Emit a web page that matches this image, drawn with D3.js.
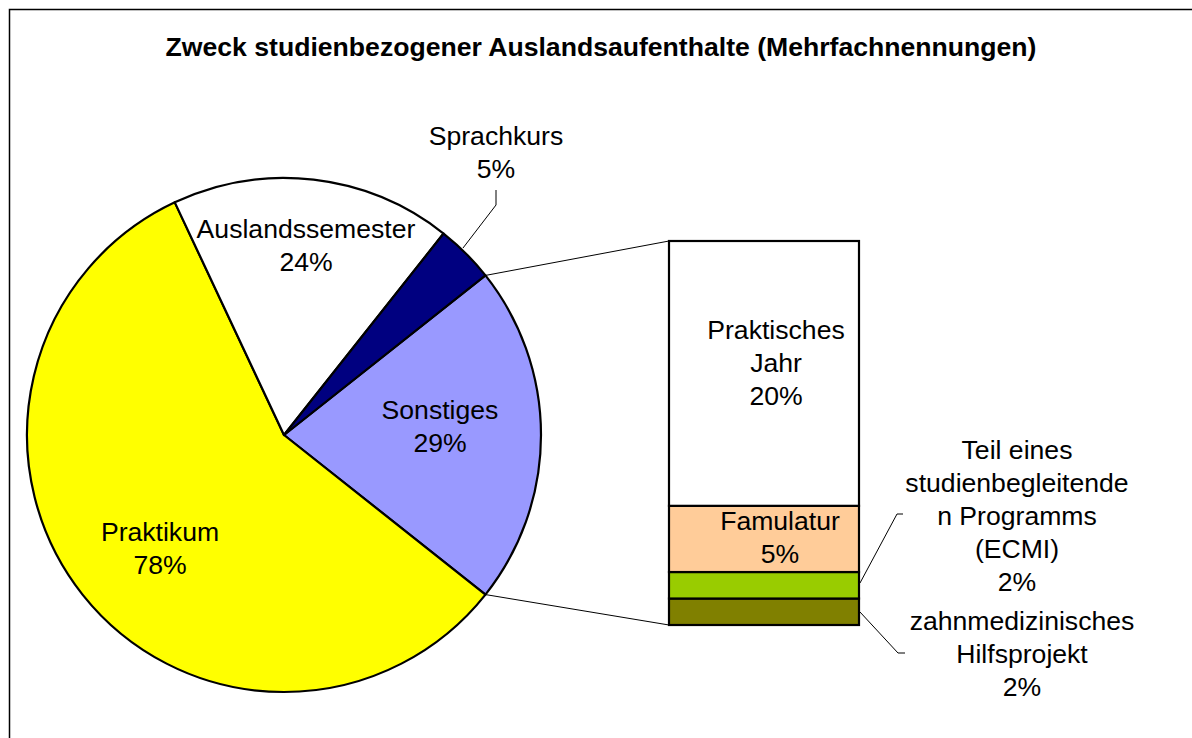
<!DOCTYPE html>
<html>
<head>
<meta charset="utf-8">
<script src="https://cdn.jsdelivr.net/npm/d3@7"></script>
<style>
  body { margin: 0; background: #fff; }
  text { font-family: "Liberation Sans", Arial, sans-serif; fill: #000; }
</style>
</head>
<body>
<div id="chart"></div>
<script>
// pie data (Sonstiges is broken out into the bar)
var pieLabels = ["Sonstiges", "Praktikum", "Auslandssemester", "Sprachkurs"];
var pieValues = [29, 78, 24, 5];
var pieColors = ["#9999FF", "#FFFF00", "#FFFFFF", "#000080"];

// bar data, bottom to top
var barLabels = ["zahnmedizinisches Hilfsprojekt", "Teil eines studienbegleitenden Programms (ECMI)", "Famulatur", "Praktisches Jahr"];
var barValues = [2, 2, 5, 20];
var barColors = ["#808000", "#99CC00", "#FFCC99", "#FFFFFF"];

var title = "Zweck studienbezogener Auslandsaufenthalte (Mehrfachnennungen)";

var svgWidth = 1192;
var svgHeight = 738;

var svg = d3.select("#chart")
    .append("svg")
    .attr("width", svgWidth)
    .attr("height", svgHeight);

// frame
svg.append("rect")
    .attr("x", 9.5).attr("y", 9.5)
    .attr("width", 1200).attr("height", 800)
    .attr("fill", "none")
    .attr("stroke", "#000")
    .attr("stroke-width", 1.5);

svg.append("text")
    .attr("x", 601).attr("y", 56)
    .attr("text-anchor", "middle")
    .attr("font-size", "26.6px")
    .attr("font-weight", "bold")
    .text(title);

// pie
var cx = 284, cy = 435, radius = 257;
var total = d3.sum(pieValues);
var start = Math.PI / 2 - (pieValues[0] / total) * Math.PI;

var pie = d3.pie()
    .sort(null)
    .startAngle(start)
    .endAngle(start + 2 * Math.PI);

var arcs = pie(pieValues);
var arc = d3.arc().innerRadius(0).outerRadius(radius);

var pieGroup = svg.append("g")
    .attr("transform", `translate(${cx}, ${cy})`);

pieGroup.selectAll("path")
    .data(arcs)
    .enter()
    .append("path")
    .attr("d", arc)
    .attr("fill", (d, i) => pieColors[i])
    .attr("stroke", "#000")
    .attr("stroke-width", 2.2)
    .attr("stroke-linejoin", "round");

// bar
var barX = 669, barW = 190;
var yScale = d3.scaleLinear()
    .domain([0, d3.sum(barValues)])
    .range([625, 241]);

var cum = 0;
var stacked = barValues.map(function (v) {
    var s = {y0: cum, y1: cum + v};
    cum += v;
    return s;
});

svg.append("g").selectAll("rect")
    .data(stacked)
    .enter()
    .append("rect")
    .attr("x", barX)
    .attr("y", d => yScale(d.y1))
    .attr("width", barW)
    .attr("height", d => yScale(d.y0) - yScale(d.y1))
    .attr("fill", (d, i) => barColors[i])
    .attr("stroke", "#000")
    .attr("stroke-width", 2.2);

// connector lines from the Sonstiges slice to the bar
var sA = arcs[0];
function edgePoint(a) {
    return [cx + radius * Math.sin(a), cy - radius * Math.cos(a)];
}
var p1 = edgePoint(sA.startAngle), p2 = edgePoint(sA.endAngle);
svg.append("line")
    .attr("x1", p1[0]).attr("y1", p1[1])
    .attr("x2", barX).attr("y2", yScale(cum))
    .attr("stroke", "#000").attr("stroke-width", 1);
svg.append("line")
    .attr("x1", p2[0]).attr("y1", p2[1])
    .attr("x2", barX).attr("y2", yScale(0))
    .attr("stroke", "#000").attr("stroke-width", 1);

// leader lines
var leaders = [
    [[496, 190], [496, 205], [463, 248]],
    [[903, 514], [897, 514], [860, 583]],
    [[860, 612], [898, 653], [905, 653]]
];
svg.append("g").selectAll("polyline")
    .data(leaders)
    .enter()
    .append("polyline")
    .attr("points", d => d.join(" "))
    .attr("fill", "none")
    .attr("stroke", "#000")
    .attr("stroke-width", 1);

// labels
function pct(v) { return v + "%"; }
var labels = [
    {x: 496, y: 145, lines: [pieLabels[3], pct(pieValues[3])]},
    {x: 306, y: 238, lines: [pieLabels[2], pct(pieValues[2])]},
    {x: 440, y: 419, lines: [pieLabels[0], pct(pieValues[0])]},
    {x: 160, y: 541, lines: [pieLabels[1], pct(pieValues[1])]},
    {x: 776, y: 339, lines: ["Praktisches", "Jahr", pct(barValues[3])]},
    {x: 780, y: 530, lines: [barLabels[2], pct(barValues[2])]},
    {x: 1017, y: 459, lines: ["Teil eines", "studienbegleitende", "n Programms", "(ECMI)", pct(barValues[1])]},
    {x: 1022, y: 630, lines: ["zahnmedizinisches", "Hilfsprojekt", pct(barValues[0])]}
];

var lab = svg.append("g").selectAll("text")
    .data(labels)
    .enter()
    .append("text")
    .attr("text-anchor", "middle")
    .attr("font-size", "26.6px");

lab.selectAll("tspan")
    .data(d => d.lines.map((t, i) => ({t: t, i: i, x: d.x, y: d.y})))
    .enter()
    .append("tspan")
    .attr("x", d => d.x)
    .attr("y", d => d.y + d.i * 33)
    .text(d => d.t);
</script>
</body>
</html>
